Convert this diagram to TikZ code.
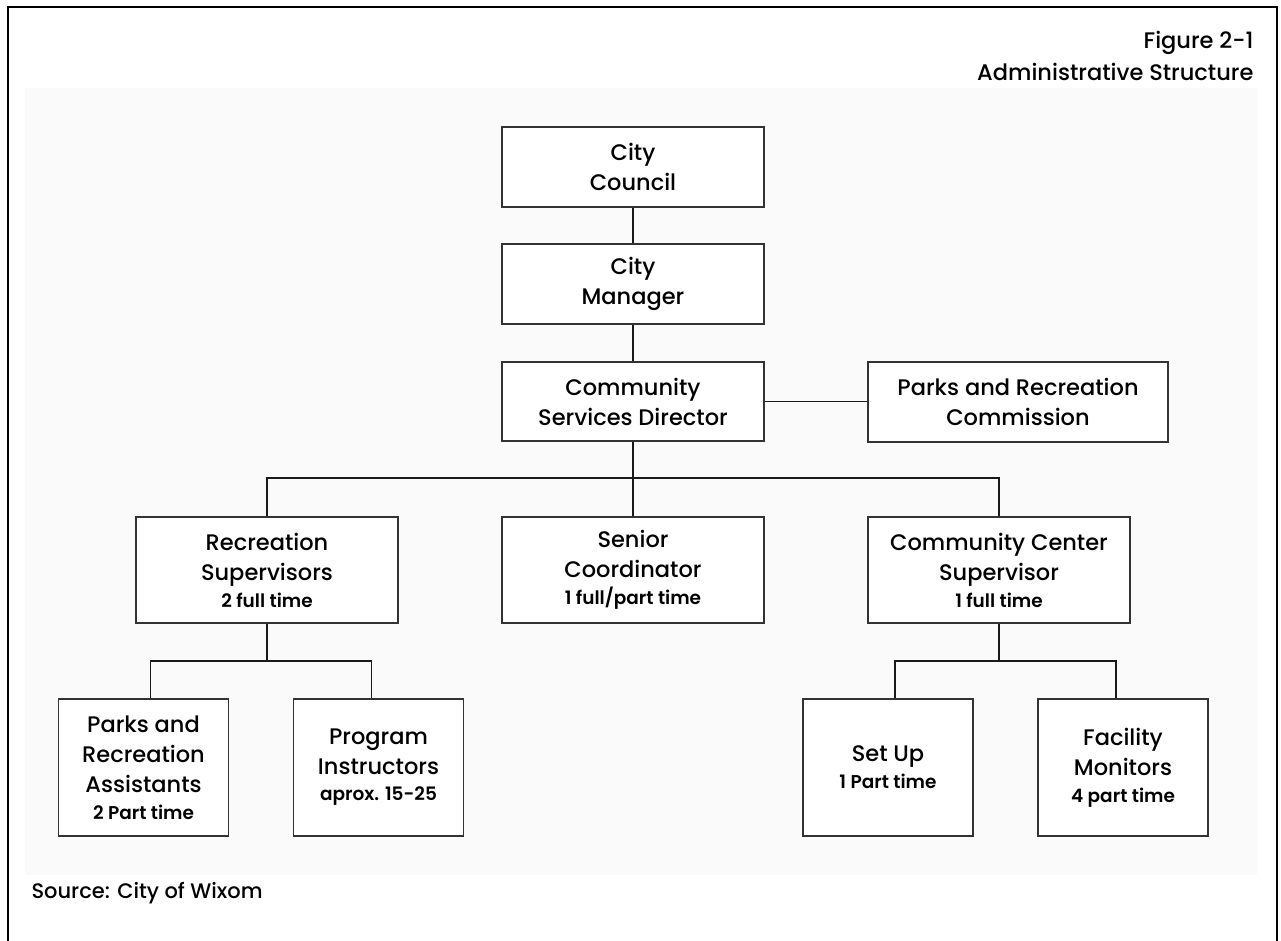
\documentclass[tikz,border=0pt]{standalone}
\usepackage{fontspec}
\setmainfont{Poppins}[UprightFont={* Medium}, BoldFont={* SemiBold}]
\usetikzlibrary{calc}
\newcommand\orgfont{\fontsize{22.5}{30}\selectfont}
\newcommand\orgsub{\fontsize{18.5}{24}\selectfont\bfseries}
\newcommand\orgtitle{\fontsize{22.5}{30}\selectfont}
\newcommand\orgsrc{\fontsize{21}{30}\selectfont}
\begin{document}
\begin{tikzpicture}[x=1pt,y=-1pt,
  orgbox/.style={draw=black!80, line width=1.7pt, inner sep=0pt, align=center, font=\orgfont, fill=white},
  link/.style={draw=black!90, line width=1.3pt},
  bigbox/.style={orgbox, minimum width=262pt, minimum height=80pt},
  midbox/.style={orgbox, minimum width=262pt, minimum height=106pt},
  tallbox/.style={orgbox, minimum width=170pt, minimum height=137pt},
]
\useasboundingbox (0,0) rectangle (1281,941);
\fill[white] (0,0) rectangle (1281,941);
\fill[black!2] (25,88) rectangle (1257,875);
\draw[line width=2.5pt] (8,960) -- (8,7) -- (1277,7) -- (1277,960);

\node[anchor=base east, font=\orgtitle] (fig) at (1257,49) {Figure 2-1};
\node[anchor=base east, font=\orgtitle] (adm) at (1257,81) {Administrative Structure};

\node[bigbox] (council) at (633,167) {City\\Council};
\node[bigbox] (manager) at (633,284) {City\\Manager};
\node[bigbox, minimum height=79pt] (csd) at (633,401.5) {Community\\Services Director};
\node[bigbox, minimum width=300pt] (prc) at (1018,402) {Parks and Recreation\\Commission};

\node[midbox] (recsup) at (267,570) {Recreation\\Supervisors\\[-3pt]\orgsub 2 full time};
\node[midbox] (senior) at (633,570) {Senior\\Coordinator\\[-3pt]\orgsub 1 full/part time};
\node[midbox] (ccsup) at (999,570) {Community Center\\Supervisor\\[-3pt]\orgsub 1 full time};

\node[tallbox] (pra) at (143.5,767.5) {Parks and\\Recreation\\Assistants\\[-3pt]\orgsub 2 Part time};
\node[tallbox] (prog) at (378.5,767.5) {Program\\Instructors\\[-4pt]\orgsub aprox. 15-25};
\node[tallbox] (setup) at (888,767.5) {Set Up\\[-3pt]\orgsub 1 Part time};
\node[tallbox] (facil) at (1123,767.5) {Facility\\Monitors\\[-3pt]\orgsub 4 part time};

\node[anchor=base west, font=\orgsrc] (src) at (28,898) {Source: City of Wixom};

\coordinate (bus) at (633,478);
\coordinate (lbus) at (267,661);
\coordinate (rbus) at (999,661);

\draw[link] (council) -- (manager);
\draw[link] (manager) -- (csd);
\draw[link] (csd.east) -- (csd.east -| prc.west);
\draw[link] (csd.south) -- (senior.north);
\draw[link] (recsup.north) |- (bus) -| (ccsup.north);
\draw[link] (recsup.south) -- (lbus);
\draw[link] ([xshift=7pt]pra.north) |- (lbus) -| ([xshift=-7pt]prog.north);
\draw[link] (ccsup.south) -- (rbus);
\draw[link] ([xshift=7pt]setup.north) |- (rbus) -| ([xshift=-7pt]facil.north);
\end{tikzpicture}
\end{document}
